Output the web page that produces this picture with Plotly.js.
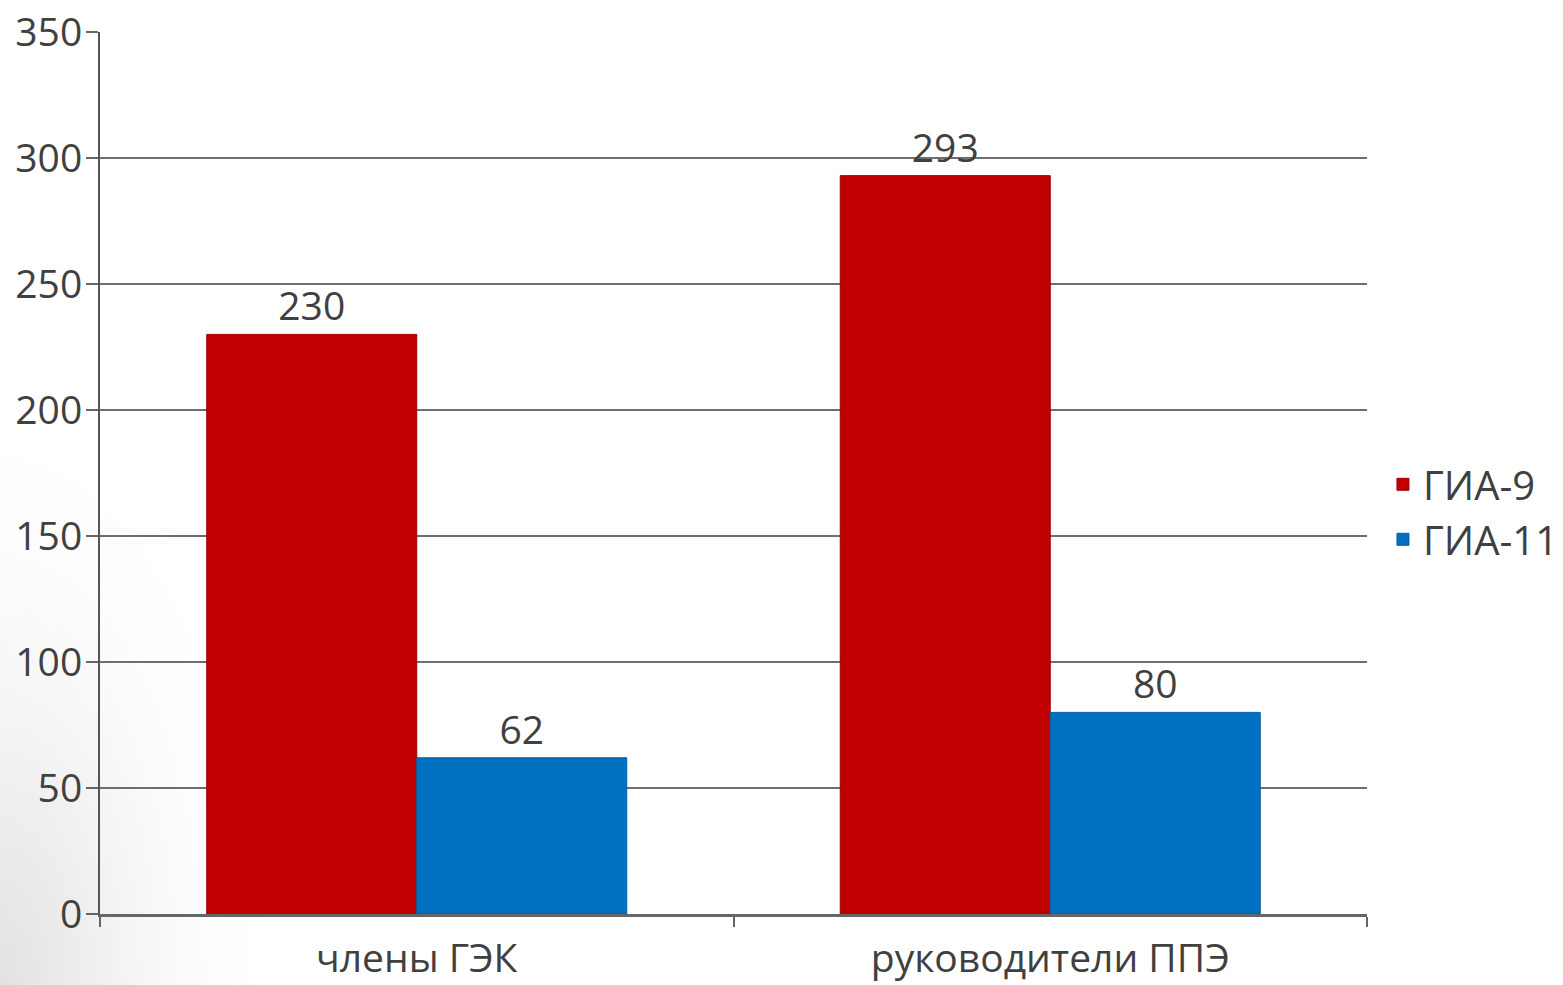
<!DOCTYPE html>
<html><head><meta charset="utf-8">
<script src="https://cdn.plot.ly/plotly-3.0.1.min.js"></script>
<style>html,body{margin:0;padding:0;background:#fff}#c{width:1563px;height:985px}</style>
</head><body><div id="c"></div>
<script>
const categories = ["члены ГЭК", "руководители ППЭ"];
const seriesNames = ["ГИА-9", "ГИА-11"];
const gia9 = [230, 293];
const gia11 = [62, 80];
const yTicks = [0, 50, 100, 150, 200, 250, 300, 350];

const fontFam = '"Open Sans", "DejaVu Sans", sans-serif';
const textColor = '#404040';
const bgSvg = '<svg xmlns="http://www.w3.org/2000/svg" width="1563" height="985"><defs><radialGradient id="g" cx="0" cy="1" r="0.6" gradientUnits="objectBoundingBox" gradientTransform="scale(0.3,1)"><stop offset="0" stop-color="#e2e2e2"/><stop offset="0.5" stop-color="#f6f6f6"/><stop offset="1" stop-color="#ffffff" stop-opacity="0"/></radialGradient></defs><rect width="1563" height="985" fill="url(#g)"/></svg>';
const traces = [
  {type:'bar', name:seriesNames[0], x:categories, y:gia9, text:gia9.map(String), textposition:'outside',
   marker:{color:'#C00000', line:{color:'#A00000', width:1}}, textfont:{size:39, color:textColor, family:fontFam}, cliponaxis:false},
  {type:'bar', name:seriesNames[1], x:categories, y:gia11, text:gia11.map(String), textposition:'outside',
   marker:{color:'#0070C0', line:{color:'#0060A8', width:1}}, textfont:{size:39, color:textColor, family:fontFam}, cliponaxis:false}
];
const layout = {
  width:1563, height:985,
  margin:{l:100, r:196, t:32, b:71, autoexpand:false},
  paper_bgcolor:'#ffffff', plot_bgcolor:'rgba(0,0,0,0)',
  images:[{source:'data:image/svg+xml;utf8,' + encodeURIComponent(bgSvg), xref:'paper', yref:'paper',
    x:-100/1267, y:-71/882, sizex:1563/1267, sizey:985/882, xanchor:'left', yanchor:'bottom', sizing:'stretch', layer:'below'}],
  font:{family:fontFam, color:textColor, size:39},
  barmode:'group', bargap:0.337, bargroupgap:0,
  showlegend:true,
  legend:{x:1.0126, y:0.456, xanchor:'left', yanchor:'middle', font:{size:40, color:textColor}, itemwidth:30, tracegroupgap:0, bgcolor:'rgba(0,0,0,0)'},
  xaxis:{type:'category', showline:true, linecolor:'#666', linewidth:3, ticks:'outside', tickson:'boundaries', ticklen:10, tickwidth:2, tickcolor:'#666',
    showgrid:false, tickfont:{size:39, color:textColor}, ticklabelstandoff:8, fixedrange:true, automargin:false},
  yaxis:{range:[0,350], tickvals:yTicks, ticktext:yTicks.map(String), showline:true, linecolor:'#555', linewidth:2,
    ticks:'outside', ticklen:12, tickwidth:2, tickcolor:'#666', showgrid:true, gridcolor:'#6e6e6e', gridwidth:2.5,
    zeroline:false, tickfont:{size:39, color:textColor}, ticklabelstandoff:-4, fixedrange:true, automargin:false}
};
Plotly.newPlot('c', traces, layout, {displayModeBar:false, staticPlot:true});
</script></body></html>
